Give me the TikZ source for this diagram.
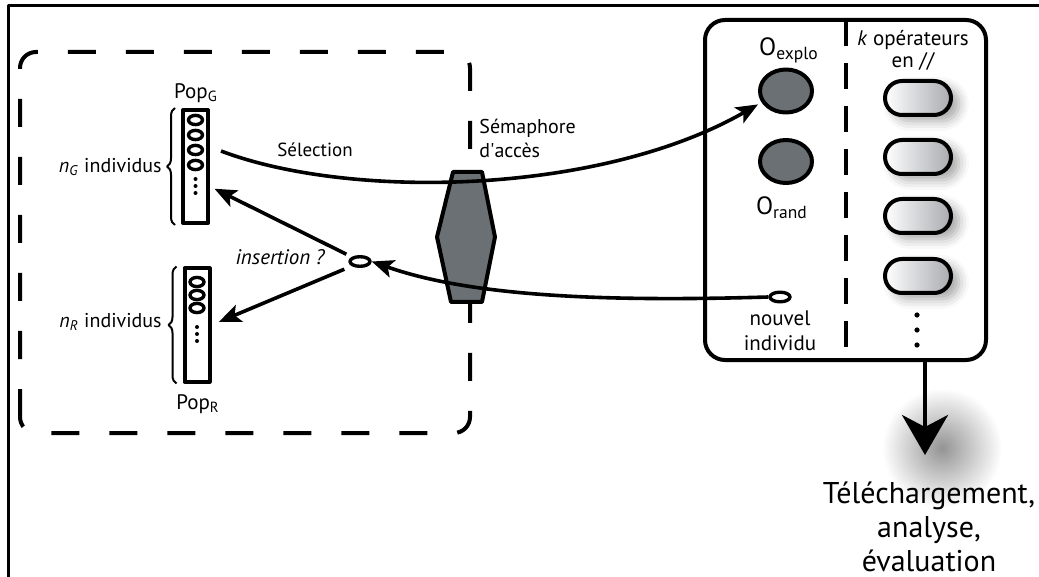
\documentclass[tikz,border=0pt]{standalone}
\usepackage{fontspec}
\setmainfont{PT Sans}
\usetikzlibrary{arrows.meta,positioning,shapes.geometric,shapes.misc,decorations.pathreplacing,shadows.blur}
\usepackage{xcolor}
\definecolor{semaGray}{HTML}{6A7073}
\definecolor{opGray}{HTML}{A9ABAF}

\begin{document}
\begin{tikzpicture}[x=0.5pt,y=-0.5pt,>=Stealth,line join=round]
\tikzstyle{conn}=[line width=1.8pt,-{Stealth[length=11pt,width=9pt,inset=2.5pt]}]
\tikzstyle{zone}=[line width=2pt,dash pattern=on 14pt off 15pt,rounded corners=8pt]
\tikzstyle{popbox}=[draw,line width=2pt,minimum width=12.5pt,minimum height=56.5pt,inner sep=0pt]
\tikzstyle{indiv}=[draw,ellipse,line width=1.7pt,minimum width=7pt,minimum height=4.6pt,inner sep=0pt]
\tikzstyle{opnode}=[draw,ellipse,line width=2pt,fill=semaGray,minimum width=26pt,minimum height=21.5pt]
\tikzstyle{worker}=[draw,rectangle,rounded corners=8.5pt,line width=2pt,left color=white,right color=opGray,minimum width=33pt,minimum height=17pt,inner sep=0pt,blur shadow={shadow xshift=4pt,shadow yshift=-3pt,shadow opacity=35,shadow blur radius=5pt}]
\tikzstyle{lbl}=[font=\fontsize{10}{12}\selectfont,inner sep=1pt]
\useasboundingbox (0,0) rectangle (1039,577);
\draw[line width=1.5pt] (8,577) -- (8,6) -- (1039,6);
\draw[zone] (20,433) rectangle (470,52);
\node[popbox] (popG) at (195.5,166.5) {};
\node[popbox] (popR) at (197,325) {};
\foreach \y in {120,135,150,165}{\node[indiv] at (195.5,\y) {};}
\foreach \y in {282,295,308}{\node[indiv] at (197,\y) {};}
\foreach \y in {179,186,193}{\fill (195.5,\y) circle (1pt);}
\foreach \y in {327,334,341}{\fill (197,\y) circle (1pt);}
\draw[line width=1pt,decorate,decoration={brace,amplitude=4pt}] ([xshift=-3pt]popG.south west) -- ([xshift=-3pt]popG.north west);
\draw[line width=1pt,decorate,decoration={brace,amplitude=4pt}] ([xshift=-3pt]popR.south west) -- ([xshift=-3pt]popR.north west);
\node[lbl,font=\fontsize{10.5}{12}\selectfont] (popGlbl) at (196,93) {Pop\textsubscript{G}};
\node[lbl,font=\fontsize{10.5}{12}\selectfont] (popRlbl) at (198,404) {Pop\textsubscript{R}};
\node[lbl,anchor=east] (nG) at (164,167) {\textit{n}\textsubscript{\textit{G}} individus};
\node[lbl,anchor=east] (nR) at (164,322) {\textit{n}\textsubscript{\textit{R}} individus};
\node[indiv,minimum width=10pt,minimum height=4.8pt] (cand) at (360,261.5) {};
\node[lbl,anchor=east,font=\fontsize{10.5}{12}\selectfont\itshape] (insLbl) at (327,257) {insertion ?};
\draw[conn,shorten <=3pt,shorten >=2.5pt] (cand.north west) -- ([yshift=-10pt]popG.east);
\draw[conn,shorten <=4pt,shorten >=4pt] (cand.south west) -- (popR.east);
\draw[line width=2pt,fill=semaGray] (453,172) -- (482,172) -- (495,237) -- (482,302) -- (451,302) -- (437,237) -- cycle;
\node[lbl,anchor=west,align=left] (semLbl) at (477,138) {Sémaphore\\d\textquotesingle accès};
\shade[inner color=black!42,outer color=white] (942,448) circle (30pt);
\node[draw,line width=2pt,rounded corners=10pt,minimum width=140.5pt,minimum height=170pt] (pool) at (845.5,190) {};
\draw[line width=2pt,dash pattern=on 13pt off 8.5pt] ([yshift=-1pt]pool.north) -- ([yshift=4pt]pool.south);
\node[opnode] (oExplo) at (786,91) {};
\node[opnode] (oRand) at (786,161.5) {};
\node[font=\fontsize{12.5}{14}\selectfont,inner sep=0pt] (oExploLbl) at (789,50) {O\textsubscript{explo}};
\node[font=\fontsize{12.5}{14}\selectfont,inner sep=0pt] (oRandLbl) at (782,208) {O\textsubscript{rand}};
\node[indiv,minimum width=10pt,minimum height=4.8pt] (newInd) at (780,297) {};
\node[font=\fontsize{10.5}{12.5}\selectfont,align=center,inner sep=0pt] (newIndLbl) at (780,331) {nouvel\\individu};
\node[font=\fontsize{10.5}{11}\selectfont,align=center,inner sep=0pt] (kOps) at (913,50) {\textit{k} opérateurs\\en //};
\foreach \y [count=\i] in {98,157,216,276}{\node[worker] (op\i) at (918,\y) {};}
\foreach \y in {315,330,345}{\fill (917,\y) circle (1.3pt);}
\draw[conn,shorten >=2pt] (221,151) .. controls (350,200) and (600,195) .. (oExplo.205);
\draw[conn] (newInd.west) .. controls (600,302) and (470,296) .. (cand.east);
\node[lbl,font=\fontsize{9.5}{12}\selectfont] (selLbl) at (315,150) {Sélection};
\node[font=\fontsize{15}{17}\selectfont,align=center,inner sep=0pt] (dl) at (929,527) {Téléchargement,\\analyse,\\évaluation};
\coordinate (dlTip) at (925,455);
\draw[line width=2pt,-{Stealth[length=20pt,width=23pt,inset=6pt]}] (pool.south -| dlTip) -- (dlTip);
\end{tikzpicture}
\end{document}
